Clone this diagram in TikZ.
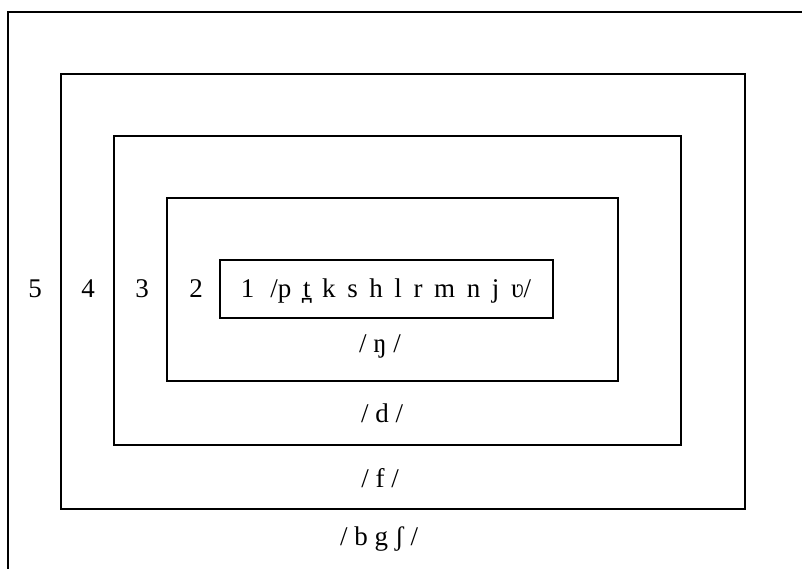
\documentclass[tikz,border=0pt]{standalone}
\usepackage{fontspec}
\setmainfont{Liberation Serif}
\newcommand{\dentalt}{\ooalign{t\cr\hfil\char"032A\hfil\cr}}
\begin{document}
\begin{tikzpicture}[x=1pt,y=-1pt,
  box/.style={draw=black,line width=2pt},
  lab/.style={anchor=base,inner sep=0pt,font=\fontsize{27}{32}\selectfont}]
\useasboundingbox (0,0) rectangle (802,569);
\draw[box] (8,569) -- (8,12) -- (802,12);
\draw[box] (61,74) rectangle (745,509);
\draw[box] (114,136) rectangle (681,445);
\draw[box] (167,198) rectangle (618,381);
\draw[box] (220,260) rectangle (553,318);
\node[lab] (n5) at (35,297) {5};
\node[lab] (n4) at (88,297) {4};
\node[lab] (n3) at (142,297) {3};
\node[lab] (n2) at (196,297) {2};
\node[lab] (n1) at (386,297) {\spaceskip=0.43em plus 0pt minus 0pt 1\hspace{0.6em}/p \dentalt{} k s h l r m n j ʋ/};
\node[lab] (eng) at (380,352) {/ ŋ /};
\node[lab] (dd) at (382,422) {/ d /};
\node[lab] (ff) at (380,487) {/ f /};
\node[lab] (bgs) at (379,545) {/ b g ʃ /};
\end{tikzpicture}
\end{document}
